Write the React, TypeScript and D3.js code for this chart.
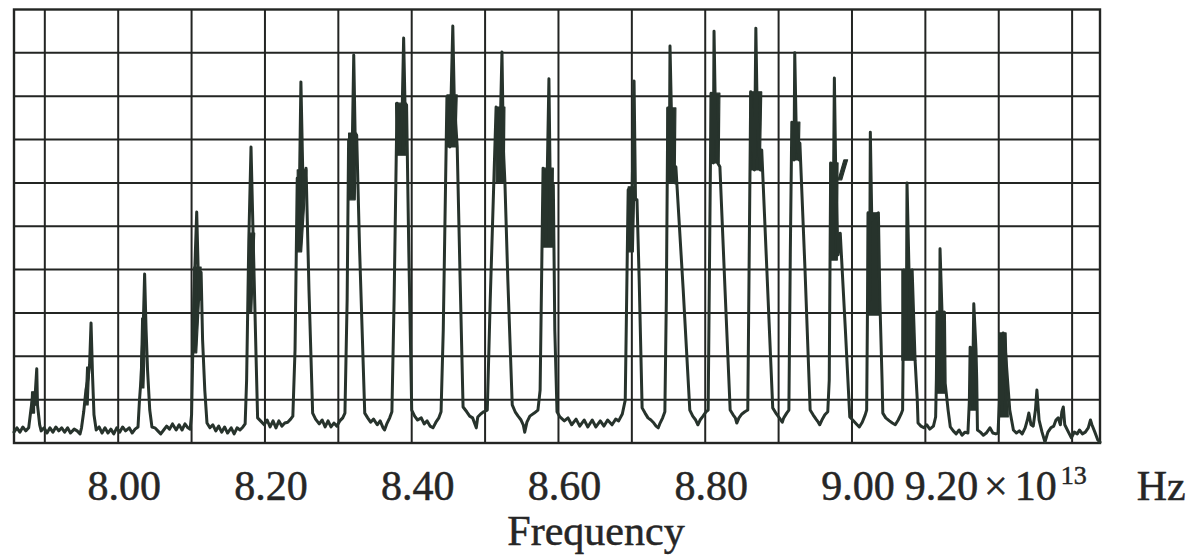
import React from "react";
import * as d3 from "d3";

const WIDTH = 1202;
const HEIGHT = 557;

// Frequency in units of 10^13 Hz; absorption in chart divisions (0–10).
const freqDomain: [number, number] = [7.858, 9.338];
const levelDomain: [number, number] = [0, 10];

const gridFreqs = [7.9, 8.0, 8.1, 8.2, 8.3, 8.4, 8.5, 8.6, 8.7, 8.8, 8.9, 9.0, 9.1, 9.2, 9.3];
const gridLevels = [1, 2, 3, 4, 5, 6, 7, 8, 9];

const tickValues = [8.0, 8.2, 8.4, 8.6, 8.8, 9.0];
const tickLabels = ["8.00", "8.20", "8.40", "8.60", "8.80", "9.00"];
const unitTickValue = 9.2;
const unitTickLabel = "9.20";
const axisTitle = "Frequency";

type Pt = [number, number];

// P branch (low-frequency side of the band)
const pBranchTrace: Pt[] = [
  [7.858, 0.25], [7.862, 0.35], [7.866, 0.25], [7.870, 0.37], [7.874, 0.28], [7.878, 0.35],
  [7.881, 0.76], [7.884, 1.15], [7.886, 0.88], [7.889, 1.71], [7.890, 0.88], [7.893, 0.42], [7.895, 0.28],
  [7.899, 0.35], [7.903, 0.23], [7.907, 0.35], [7.911, 0.25], [7.915, 0.37], [7.919, 0.28], [7.923, 0.35],
  [7.927, 0.25], [7.931, 0.35], [7.935, 0.23], [7.940, 0.32], [7.944, 0.28], [7.948, 0.21], [7.950, 0.35],
  [7.953, 0.72], [7.956, 1.22], [7.959, 1.50], [7.961, 1.80], [7.963, 2.77], [7.965, 1.57], [7.967, 0.65], [7.970, 0.30],
  [7.974, 0.37], [7.978, 0.23], [7.982, 0.35], [7.986, 0.23], [7.990, 0.32], [7.994, 0.21], [7.998, 0.35],
  [8.002, 0.25], [8.006, 0.37], [8.010, 0.28], [8.015, 0.35], [8.019, 0.23], [8.023, 0.32], [8.027, 0.37],
  [8.029, 0.99], [8.031, 1.45], [8.034, 2.61], [8.036, 3.90], [8.038, 2.61], [8.040, 1.68], [8.043, 0.76], [8.046, 0.37],
  [8.050, 0.35], [8.054, 0.28], [8.058, 0.21], [8.062, 0.30], [8.066, 0.39], [8.070, 0.32], [8.074, 0.44],
  [8.079, 0.30], [8.083, 0.42], [8.087, 0.30], [8.091, 0.44], [8.095, 0.35], [8.098, 0.32],
  [8.100, 0.65], [8.103, 3.30], [8.107, 5.33], [8.110, 3.30], [8.113, 3.94], [8.115, 2.38], [8.118, 1.22], [8.121, 0.46],
  [8.125, 0.35], [8.129, 0.42], [8.133, 0.28], [8.137, 0.39], [8.141, 0.25], [8.145, 0.37], [8.149, 0.23],
  [8.154, 0.35], [8.158, 0.21], [8.162, 0.35], [8.166, 0.30], [8.170, 0.37], [8.173, 0.44],
  [8.175, 1.45], [8.178, 4.68], [8.181, 6.83], [8.184, 4.68], [8.186, 3.30], [8.188, 1.91], [8.190, 0.58],
  [8.194, 0.51], [8.199, 0.42], [8.203, 0.53], [8.207, 0.37], [8.211, 0.51], [8.215, 0.35], [8.219, 0.51],
  [8.223, 0.39], [8.227, 0.46], [8.231, 0.48], [8.235, 0.55], [8.238, 0.62],
  [8.241, 2.15], [8.244, 6.11], [8.246, 4.68], [8.249, 8.33], [8.252, 5.84], [8.256, 6.34], [8.260, 3.53], [8.265, 0.69],
  [8.269, 0.55], [8.274, 0.44], [8.278, 0.53], [8.282, 0.37], [8.286, 0.51], [8.290, 0.37], [8.294, 0.46],
  [8.298, 0.39], [8.302, 0.51], [8.306, 0.58], [8.309, 0.69],
  [8.312, 3.30], [8.314, 6.99], [8.318, 5.84], [8.321, 8.95], [8.323, 6.99], [8.325, 7.10], [8.329, 4.45], [8.336, 0.69],
  [8.340, 0.58], [8.344, 0.48], [8.348, 0.55], [8.353, 0.42], [8.357, 0.51], [8.361, 0.35], [8.363, 0.30],
  [8.366, 0.44], [8.370, 0.58], [8.373, 0.72],
  [8.376, 3.30], [8.380, 7.84], [8.384, 6.76], [8.387, 7.68], [8.389, 9.34], [8.391, 7.68], [8.393, 7.80], [8.396, 4.45], [8.400, 0.76],
  [8.404, 0.62], [8.408, 0.53], [8.413, 0.58], [8.417, 0.44], [8.421, 0.51], [8.425, 0.39], [8.429, 0.35],
  [8.433, 0.48], [8.437, 0.58], [8.440, 0.72],
  [8.443, 2.61], [8.448, 7.98], [8.452, 6.83], [8.456, 9.62], [8.458, 7.91], [8.462, 6.83], [8.466, 3.76], [8.470, 0.83],
  [8.475, 0.72], [8.479, 0.62], [8.483, 0.58], [8.488, 0.35], [8.490, 0.60], [8.494, 0.67], [8.498, 0.72], [8.503, 0.76],
  [8.507, 3.30], [8.515, 7.75], [8.519, 6.07], [8.523, 9.02], [8.525, 6.76], [8.527, 6.02], [8.531, 3.76], [8.537, 0.88],
  [8.541, 0.72], [8.545, 0.62], [8.549, 0.53], [8.552, 0.42], [8.554, 0.25], [8.557, 0.48], [8.561, 0.62],
  [8.567, 0.69], [8.572, 0.76],
  [8.575, 1.22], [8.579, 6.34], [8.583, 4.57], [8.587, 8.40], [8.589, 5.61], [8.593, 5.95], [8.595, 2.61], [8.598, 0.72],
];

// Band centre, where no line is absorbed
const gapTrace: Pt[] = [
  [8.602, 0.60], [8.608, 0.51], [8.613, 0.58], [8.618, 0.42], [8.624, 0.55], [8.629, 0.39], [8.635, 0.53],
  [8.640, 0.37], [8.646, 0.53], [8.651, 0.37], [8.657, 0.51], [8.662, 0.39], [8.667, 0.53], [8.673, 0.42],
  [8.678, 0.55], [8.682, 0.51], [8.687, 0.67],
];

// R branch (high-frequency side of the band)
const rBranchTrace: Pt[] = [
  [8.691, 0.99], [8.695, 5.84], [8.699, 4.45], [8.703, 8.35], [8.705, 5.61], [8.707, 5.61], [8.710, 3.76], [8.714, 0.81],
  [8.718, 0.69], [8.722, 0.58], [8.726, 0.53], [8.730, 0.46], [8.733, 0.39], [8.736, 0.35], [8.738, 0.44],
  [8.742, 0.58], [8.745, 0.72],
  [8.747, 3.30], [8.749, 7.73], [8.751, 6.07], [8.752, 9.16], [8.755, 6.76], [8.759, 6.00], [8.760, 6.37], [8.770, 3.53], [8.779, 0.76],
  [8.783, 0.62], [8.787, 0.53], [8.790, 0.42], [8.793, 0.53], [8.797, 0.62], [8.801, 0.72], [8.804, 0.76],
  [8.806, 4.45], [8.808, 8.07], [8.811, 6.46], [8.812, 9.50], [8.814, 7.45], [8.817, 6.46], [8.820, 6.37], [8.827, 3.53], [8.834, 0.76],
  [8.838, 0.65], [8.841, 0.58], [8.843, 0.46], [8.846, 0.58], [8.850, 0.67], [8.854, 0.72], [8.858, 0.76],
  [8.860, 4.45], [8.862, 8.10], [8.867, 6.30], [8.869, 9.57], [8.871, 7.45], [8.875, 6.30], [8.877, 6.76], [8.884, 3.99], [8.892, 0.81],
  [8.897, 0.67], [8.901, 0.58], [8.905, 0.48], [8.907, 0.58], [8.911, 0.69], [8.914, 0.76],
  [8.916, 4.45], [8.918, 7.40], [8.921, 6.53], [8.922, 9.00], [8.924, 7.22], [8.928, 6.53], [8.929, 6.92], [8.936, 3.99], [8.943, 0.76],
  [8.947, 0.65], [8.951, 0.55], [8.954, 0.48], [8.956, 0.42], [8.959, 0.53], [8.963, 0.65], [8.967, 0.72],
  [8.969, 1.45], [8.971, 6.46], [8.974, 4.27], [8.976, 8.42], [8.978, 6.07], [8.981, 4.34], [8.984, 4.84], [8.991, 2.61], [8.997, 0.60],
  [9.001, 0.53], [9.006, 0.44], [9.010, 0.37], [9.014, 0.48], [9.018, 0.65], [9.020, 0.76],
  [9.021, 2.84], [9.022, 5.31], [9.024, 3.30], [9.025, 7.17], [9.027, 5.14], [9.036, 5.31], [9.038, 3.30], [9.041, 1.45], [9.042, 0.69],
  [9.046, 0.58], [9.051, 0.51], [9.055, 0.46], [9.059, 0.42], [9.063, 0.53], [9.067, 0.67], [9.069, 0.76],
  [9.070, 2.61], [9.071, 3.99], [9.074, 2.15], [9.075, 6.00], [9.078, 3.76], [9.082, 3.99], [9.086, 1.91], [9.089, 0.99], [9.090, 0.46],
  [9.094, 0.39], [9.098, 0.35], [9.102, 0.42], [9.106, 0.32], [9.111, 0.39], [9.114, 0.60],
  [9.115, 1.45], [9.116, 3.02], [9.119, 1.22], [9.120, 4.48], [9.123, 2.84], [9.126, 3.02], [9.127, 1.38], [9.131, 0.76], [9.134, 0.37],
  [9.138, 0.28], [9.142, 0.21], [9.146, 0.30], [9.150, 0.18], [9.154, 0.25], [9.158, 0.23],
  [9.160, 0.99], [9.161, 2.21], [9.164, 0.88], [9.166, 3.21], [9.169, 2.15], [9.170, 1.45], [9.171, 0.30],
  [9.175, 0.25], [9.179, 0.18], [9.183, 0.23], [9.188, 0.35], [9.192, 0.23], [9.196, 0.21], [9.199, 0.23],
  [9.201, 0.99], [9.202, 2.38], [9.205, 0.76], [9.206, 2.54], [9.209, 2.15], [9.213, 1.22], [9.215, 0.76], [9.220, 0.30],
];

// Weak high-J lines fading into the noise
const tailTrace: Pt[] = [
  [9.224, 0.23], [9.228, 0.28], [9.232, 0.21], [9.236, 0.35], [9.239, 0.53], [9.241, 0.69], [9.244, 0.42],
  [9.247, 0.39], [9.250, 0.76], [9.252, 1.22], [9.255, 0.53], [9.259, 0.25], [9.263, 0.02], [9.267, 0.25],
  [9.271, 0.35], [9.275, 0.39], [9.278, 0.53], [9.281, 0.58], [9.284, 0.42], [9.286, 0.72], [9.288, 0.83],
  [9.290, 0.42], [9.295, 0.25], [9.299, 0.12], [9.303, 0.25], [9.307, 0.21], [9.310, 0.30], [9.314, 0.21],
  [9.318, 0.25], [9.322, 0.35], [9.325, 0.53], [9.327, 0.42], [9.331, 0.25], [9.335, 0.07], [9.338, 0.02],
];

// Unresolved isotope doublets, drawn as solid dark blocks:
// [bottom-left f, bottom-right f, bottom level, top-left f, top-right f, top level]
const doubletBands: [number, number, number, number, number, number][] = [
  [7.881, 7.886, 0.69, 7.882, 7.886, 1.18],
  [7.955, 7.959, 0.88, 7.957, 7.961, 1.75],
  [8.030, 8.035, 1.27, 8.032, 8.038, 2.88],
  [8.102, 8.107, 2.08, 8.103, 8.113, 4.06],
  [8.177, 8.182, 3.02, 8.178, 8.186, 4.84],
  [8.244, 8.250, 4.41, 8.244, 8.257, 6.30],
  [8.314, 8.323, 5.61, 8.314, 8.325, 7.15],
  [8.380, 8.392, 6.64, 8.378, 8.393, 7.84],
  [8.448, 8.460, 6.83, 8.448, 8.462, 8.03],
  [8.515, 8.526, 6.02, 8.515, 8.527, 7.75],
  [8.579, 8.592, 4.52, 8.579, 8.593, 6.34],
  [8.695, 8.702, 4.41, 8.695, 8.704, 5.91],
  [8.748, 8.759, 6.00, 8.748, 8.760, 7.73],
  [8.807, 8.819, 6.46, 8.807, 8.820, 8.07],
  [8.861, 8.875, 6.30, 8.861, 8.877, 8.10],
  [8.918, 8.928, 6.53, 8.918, 8.929, 7.40],
  [8.970, 8.980, 4.22, 8.970, 8.981, 6.46],
  [8.981, 8.986, 6.07, 8.989, 8.994, 6.53],
  [9.021, 9.038, 2.95, 9.021, 9.036, 5.31],
  [9.068, 9.086, 1.91, 9.068, 9.082, 3.99],
  [9.115, 9.127, 1.15, 9.115, 9.126, 3.02],
  [9.161, 9.170, 0.76, 9.161, 9.169, 2.21],
  [9.200, 9.213, 0.60, 9.200, 9.210, 2.54],
];

const PLOT = { left: 14, right: 1100, top: 9.5, bottom: 443 };
const INK = "#232523";
const TRACE = "#27332c";
const TEXT = "#262626";
const FONT = "'Liberation Serif', 'DejaVu Serif', serif";

export default function App() {
  const x = d3.scaleLinear().domain(freqDomain).range([PLOT.left, PLOT.right]);
  const y = d3.scaleLinear().domain(levelDomain).range([PLOT.bottom, PLOT.top]);

  const line = d3
    .line<Pt>()
    .x((d) => x(d[0]))
    .y((d) => y(d[1]))
    .curve(d3.curveLinear);

  const trace = [...pBranchTrace, ...gapTrace, ...rBranchTrace, ...tailTrace];

  const unitX = x(unitTickValue) - 94;

  return (
    <svg
      width={WIDTH}
      height={HEIGHT}
      viewBox={`0 0 ${WIDTH} ${HEIGHT}`}
      style={{ position: "absolute", left: 0, top: 0, display: "block", background: "#ffffff" }}
    >
      <rect x={0} y={0} width={WIDTH} height={HEIGHT} fill="#ffffff" />

      {/* grid */}
      <g stroke={INK} strokeWidth={2} fill="none">
        {gridFreqs.map((f) => (
          <line key={`v${f}`} x1={x(f)} x2={x(f)} y1={y(levelDomain[0])} y2={y(levelDomain[1])} />
        ))}
        {gridLevels.map((v) => (
          <line key={`h${v}`} x1={x(freqDomain[0])} x2={x(freqDomain[1])} y1={y(v)} y2={y(v)} />
        ))}
        <rect
          x={x(freqDomain[0])}
          y={y(levelDomain[1])}
          width={x(freqDomain[1]) - x(freqDomain[0])}
          height={y(levelDomain[0]) - y(levelDomain[1])}
          strokeWidth={2.4}
        />
      </g>

      {/* doublet blocks */}
      <g fill={TRACE} stroke={TRACE} strokeWidth={1.2} strokeLinejoin="round">
        {doubletBands.map((b, i) => (
          <polygon
            key={i}
            points={[
              [x(b[0]), y(b[2])],
              [x(b[1]), y(b[2])],
              [x(b[4]), y(b[5])],
              [x(b[3]), y(b[5])],
            ]
              .map((p) => p.join(","))
              .join(" ")}
          />
        ))}
      </g>

      {/* spectrum trace */}
      <path d={line(trace) ?? ""} fill="none" stroke={TRACE} strokeWidth={3} strokeLinejoin="round" strokeLinecap="round" />

      {/* frequency ticks */}
      <g fontFamily={FONT} fontSize={42} fill={TEXT} stroke={TEXT} strokeWidth={0.5}>
        {tickValues.map((v, i) => (
          <text key={v} x={x(v) + 6} y={500} textAnchor="middle">
            {tickLabels[i]}
          </text>
        ))}
        <text x={unitX} y={500}>
          {unitTickLabel}
        </text>
        <text x={unitX + 91} y={500} textAnchor="middle">
          ×
        </text>
        <text x={unitX + 110} y={500}>
          10
        </text>
        <text x={unitX + 156} y={484} fontSize={26}>
          13
        </text>
        <text x={unitX + 232} y={500}>
          Hz
        </text>
        <text x={596} y={545} textAnchor="middle">
          {axisTitle}
        </text>
      </g>
    </svg>
  );
}
